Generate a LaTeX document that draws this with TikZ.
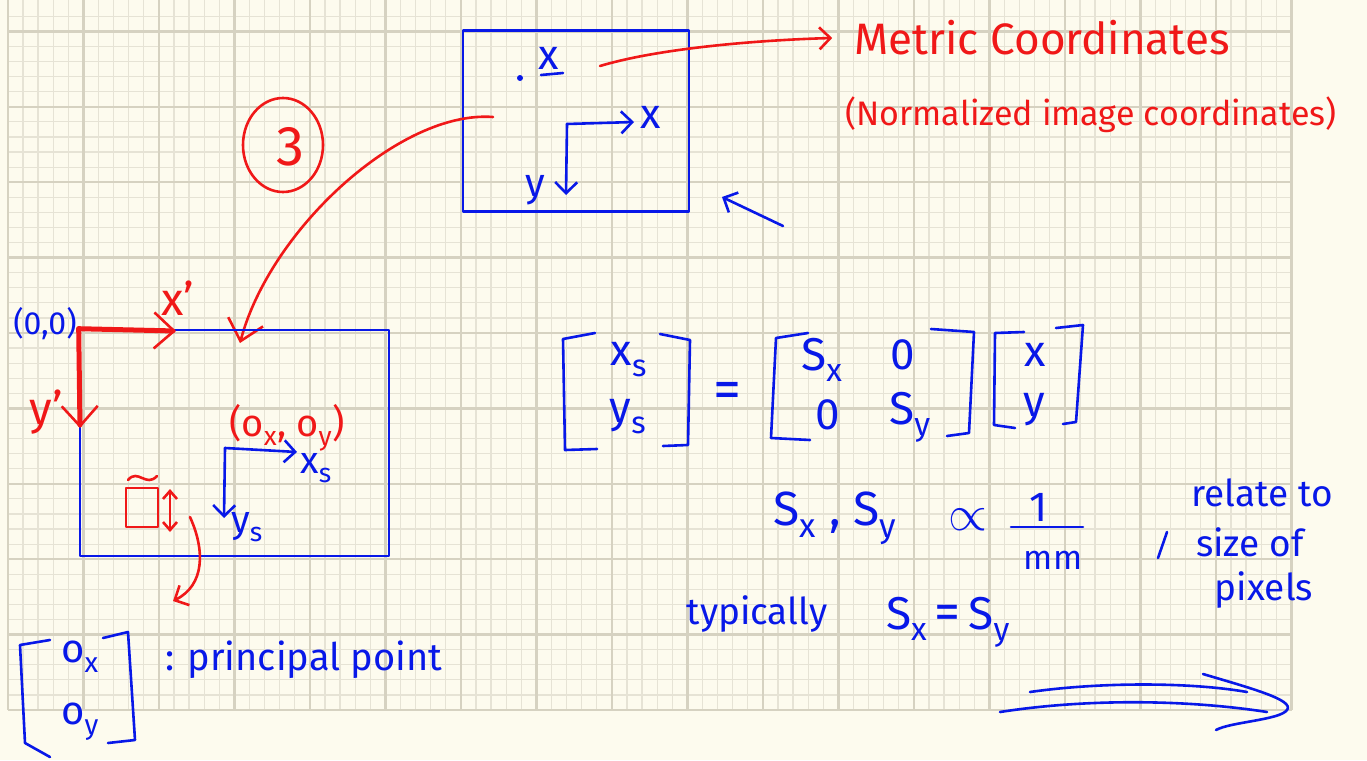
\documentclass[tikz,border=0pt]{standalone}
\usepackage{unicode-math}
\setmainfont{Fira Sans}
\usetikzlibrary{arrows.meta}

\definecolor{paper}{RGB}{253,251,238}
\definecolor{gridminor}{RGB}{230,227,213}
\definecolor{gridmajor}{RGB}{214,210,193}
\definecolor{inkblue}{RGB}{8,24,232}
\definecolor{inkred}{RGB}{240,24,24}

\newcommand{\inksize}[1]{\fontsize{#1}{#1}\selectfont}
\newcommand{\sub}[2]{#1\textsubscript{#2}}

\tikzset{
  bluepen/.style={draw=inkblue, line width=2.6pt, line cap=round, line join=round},
  redpen/.style={draw=inkred, line width=2.6pt, line cap=round, line join=round},
  bluetxt/.style={text=inkblue, inner sep=0pt},
  redtxt/.style={text=inkred, inner sep=0pt},
  barb/.style={-{Straight Barb[length=11pt,width=22pt]}},
  bigbarb/.style={-{Straight Barb[length=20pt,width=36pt,line width=2.6pt]}},
}

\begin{document}
\begin{tikzpicture}[x=1pt, y=-1pt]
  \useasboundingbox (0,0) rectangle (1367,760);
  \fill[paper] (0,0) rectangle (1367,760);
  % paper grid
  \foreach \i in {0,...,85}
    \draw[gridminor, line width=1.2pt] ({7.8+15.1*\i},0) -- ++(0,710);
  \foreach \j in {0,...,46}
    \draw[gridminor, line width=1.2pt] (7.8,{710-15.08*\j}) -- ++(1284,0);
  \foreach \i in {0,...,17}
    \draw[gridmajor, line width=2.4pt] ({7.8+75.5*\i},0) -- ++(0,710);
  \foreach \j in {0,...,9}
    \draw[gridmajor, line width=2.4pt] (7.8,{710-75.4*\j}) -- ++(1284,0);

  % normalized image plane
  \node[bluepen, minimum width=226pt, minimum height=181pt] (normbox) at (576,121) {};
  \fill[inkblue] (520,78) circle (3pt);
  \node[bluetxt, font=\inksize{42}] (ptx) at (549,58) {x};
  \draw[bluepen] (541,75) -- (563,73);
  \coordinate (nc) at (567,124);
  \node[bluetxt, font=\inksize{42}] (nx) at (651,117) {x};
  \node[bluetxt, font=\inksize{40}] (ny) at (535,190) {y};
  \draw[bluepen, barb] (nc) -- (634,122);
  \draw[bluepen, barb] (nc) -- (566,195);
  \coordinate (hint) at (783,226);
  \draw[bluepen, barb] (hint) -- (722,197);

  \node[redtxt, font=\inksize{44}] (metric) at (1042,38) {Metric Coordinates};
  \node[redtxt, font=\inksize{34}] (normimg) at (1091,115) {(Normalized image coordinates)};
  \coordinate (xsrc) at (600,66);
  \draw[redpen, barb] (xsrc) .. controls (660,48) and (760,40) .. ([xshift=-22pt]metric.west);

  % step number
  \node[redtxt, font=\inksize{56}] (three) at (290,147) {3};
  \draw[redpen] (283,145) ellipse (40pt and 47pt);
  \coordinate (normsrc) at (493,117);
  \coordinate (pixdst) at (240,343);
  \draw[redpen, bigbarb] (normsrc) .. controls (400,110) and (270,230) .. (pixdst);

  % pixel image plane
  \node[bluepen, minimum width=309pt, minimum height=226pt] (pixbox) at (234.5,443) {};
  \node[bluetxt, font=\inksize{32}] (origin) at (45,324) {(0,0)};
  \draw[redpen, line width=5pt, bigbarb] (pixbox.north west) -- (176,331);
  \draw[redpen, line width=5pt, bigbarb] (pixbox.north west) -- (80,428);
  \node[redtxt, font=\inksize{46}] (xprime) at (178,298) {x'};
  \node[redtxt, font=\inksize{46}] (yprime) at (46,412) {y'};
  \coordinate (pc) at (225,448);
  \node[bluetxt, font=\inksize{38}] (xs) at (316,468) {\sub{x}{s}};
  \node[bluetxt, font=\inksize{38}] (ys) at (247,527) {\sub{y}{s}};
  \draw[bluepen, barb] (pc) -- (297,452);
  \draw[bluepen, barb] (pc) -- (224,518);
  \node[redtxt, font=\inksize{38}] (oxoy) at (287,428) {(\sub{o}{x}, \sub{o}{y})};
  \draw[redpen] (126,488) rectangle (158,527);
  \draw[redpen] (128,480) .. controls (138,468) and (146,488) .. (157,476);
  \draw[redpen, {Straight Barb[length=8pt,width=14pt]}-{Straight Barb[length=8pt,width=14pt]}] (170,489) -- (170,532);
  \draw[redpen, barb] (190,517) .. controls (205,550) and (205,585) .. (173,601);

  % scaling equation
  \draw[bluepen] (595,333) -- (563,339) -- (565,450) -- (597,449);
  \draw[bluepen] (660,334) -- (690,340) -- (688,445) -- (663,446);
  \node[bluetxt, font=\inksize{44}] (xsv) at (629,360) {\sub{x}{s}};
  \node[bluetxt, font=\inksize{44}] (ysv) at (628,417) {\sub{y}{s}};
  \node[bluetxt, font=\inksize{56}] (eq) at (727,395) {=};
  \draw[bluepen] (808,333) -- (776,338) -- (771,438) -- (810,440);
  \draw[bluepen] (931,329) -- (974,332) -- (969,433) -- (947,436);
  \node[bluetxt, font=\inksize{46}] (sx) at (822,360) {\sub{S}{x}};
  \node[bluetxt, font=\inksize{44}] (za) at (903,355) {0};
  \node[bluetxt, font=\inksize{44}] (zb) at (828,415) {0};
  \node[bluetxt, font=\inksize{46}] (sy) at (910,417) {\sub{S}{y}};
  \draw[bluepen] (1024,332) -- (995,333) -- (994,425) -- (1015,428);
  \draw[bluepen] (1056,328) -- (1083,325) -- (1076,422) -- (1063,424);
  \node[bluetxt, font=\inksize{44}] (vx) at (1035,355) {x};
  \node[bluetxt, font=\inksize{44}] (vy) at (1034,410) {y};

  \node[bluetxt, font=\inksize{48}] (sxsy) at (835,518) {\sub{S}{x} , \sub{S}{y}};
  \node[bluetxt, font=\inksize{50}] (prop) at (968,520) {$\propto$};
  \node[bluetxt, font=\inksize{42}] (one) at (1039,507) {1};
  \draw[bluepen] (1011,527) -- (1083,527);
  \node[bluetxt, font=\inksize{34}] (mm) at (1053,560) {mm};
  \node[bluetxt, font=\inksize{37}] (typ) at (757,614) {typically};
  \node[bluetxt, font=\inksize{46}] (sxeq) at (948,622) {\sub{S}{x}\,{\inksize{52}=}\,\sub{S}{y}};

  \draw[bluepen] (1167,532) -- (1158,558);
  \node[bluetxt, font=\inksize{37}] (relate) at (1262,493) {relate to};
  \node[bluetxt, font=\inksize{37}] (sizeof) at (1250,542) {size of};
  \node[bluetxt, font=\inksize{37}] (pixels) at (1264,590) {pixels};

  \draw[bluepen] (1030,692) .. controls (1100,682) and (1190,682) .. (1247,692);
  \draw[bluepen] (1000,712) .. controls (1090,698) and (1190,700) .. (1267,712);
  \draw[bluepen] (1203,674) .. controls (1250,688) and (1295,700) .. (1287,710)
    .. controls (1280,720) and (1230,722) .. (1216,730);

  % principal point
  \draw[bluepen] (50,640) -- (20,645) -- (25,743) -- (50,757);
  \draw[bluepen] (103,638) -- (128,632) -- (135,740) -- (108,743);
  \node[bluetxt, font=\inksize{40}] (ox) at (80,657) {\sub{o}{x}};
  \node[bluetxt, font=\inksize{40}] (oy) at (80,722) {\sub{o}{y}};
  \node[bluetxt, font=\inksize{38}, anchor=west] (pp) at (165,660) {: principal point};
\end{tikzpicture}
\end{document}
